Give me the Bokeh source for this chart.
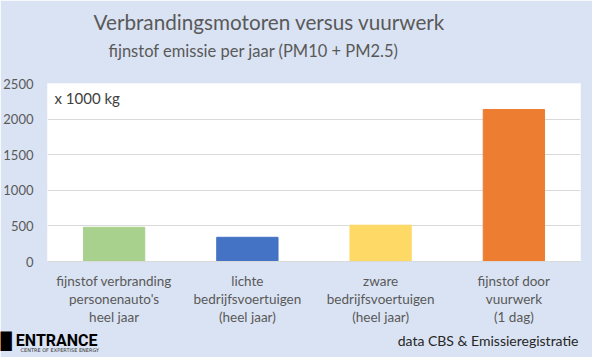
from bokeh.plotting import figure
from bokeh.models import Label, Range1d, SingleIntervalTicker, Title
from bokeh.embed import file_html
from bokeh.resources import INLINE

categories = ["fijnstof verbranding\npersonenauto's\nheel jaar",
              "lichte\nbedrijfsvoertuigen\n(heel jaar)",
              "zware\nbedrijfsvoertuigen\n(heel jaar)",
              "fijnstof door\nvuurwerk\n(1 dag)"]
values = [480, 340, 510, 2135]
colors = ["#a9d18e", "#4472c4", "#ffd966", "#ed7d31"]

FONT = "Lato"
GREY = "#595959"

p = figure(x_range=categories, y_range=Range1d(0, 2500), width=592, height=357,
           output_backend="svg", toolbar_location=None,
           min_border_left=47, min_border_right=12, min_border_top=83,
           min_border_bottom=96)
p.border_fill_color = "#dae3f3"
p.background_fill_color = "white"
p.outline_line_color = None

p.vbar(x=categories, top=values, width=0.46, color=colors)

p.yaxis.ticker = SingleIntervalTicker(interval=500)
p.yaxis.axis_line_color = None
p.yaxis.major_tick_line_color = None
p.yaxis.minor_tick_line_color = None
p.yaxis.major_label_text_font = FONT
p.yaxis.major_label_text_font_size = "13px"
p.yaxis.major_label_text_color = GREY
p.yaxis.major_label_standoff = 8

p.xaxis.axis_line_color = "#d9d9d9"
p.xaxis.major_tick_line_color = None
p.xaxis.minor_tick_line_color = None
p.xaxis.major_label_text_font = FONT
p.xaxis.major_label_text_font_size = "13.5px"
p.xaxis.major_label_text_color = GREY
p.xaxis.major_label_standoff = 5
p.xaxis.major_label_text_line_height = 1.15

p.xgrid.grid_line_color = None
p.ygrid.grid_line_color = "#d9d9d9"

p.add_layout(Label(x=54, y=97, x_units="canvas", y_units="canvas",
                   text="x 1000 kg", text_align="left", text_baseline="middle",
                   text_font=FONT, text_font_size="15px", text_color="#404040"))


def spacer(side, px):
    p.add_layout(Title(text=" ", text_font_size="1px", standoff=px - 3), side)


def zero_title(side, text, size, align, offset, color=GREY, font=FONT, style="normal"):
    size_px = float(size.replace("px", ""))
    h_est = size_px * 1.2
    p.add_layout(Title(text=text, align=align, offset=offset, vertical_align="middle",
                       text_baseline="middle", text_font=font, text_font_size=size,
                       text_font_style=style, text_color=color,
                       standoff=-(2 + h_est)), side)


# titles (above: first added is nearest to the frame)
spacer("above", 33)
zero_title("above", "fijnstof emissie per jaar (PM10 + PM2.5)", "16.5px", "left", 61)
spacer("above", 29)
zero_title("above", "Verbrandingsmotoren versus vuurwerk", "20.7px", "left", 46)

# footer
spacer("below", 12)
zero_title("below", "data CBS & Emissieregistratie", "14px", "right", 2, color="#262626")
zero_title("below", "\u2588 ENTRANCE", "16px", "left", -47, color="black",
           font="Roboto", style="bold")
spacer("below", 9)
zero_title("below", "CENTRE OF EXPERTISE ENERGY", "5px", "left", -27, color="#333333",
           font="DejaVu Sans")

open("out.html", "w").write(file_html(p, INLINE))
